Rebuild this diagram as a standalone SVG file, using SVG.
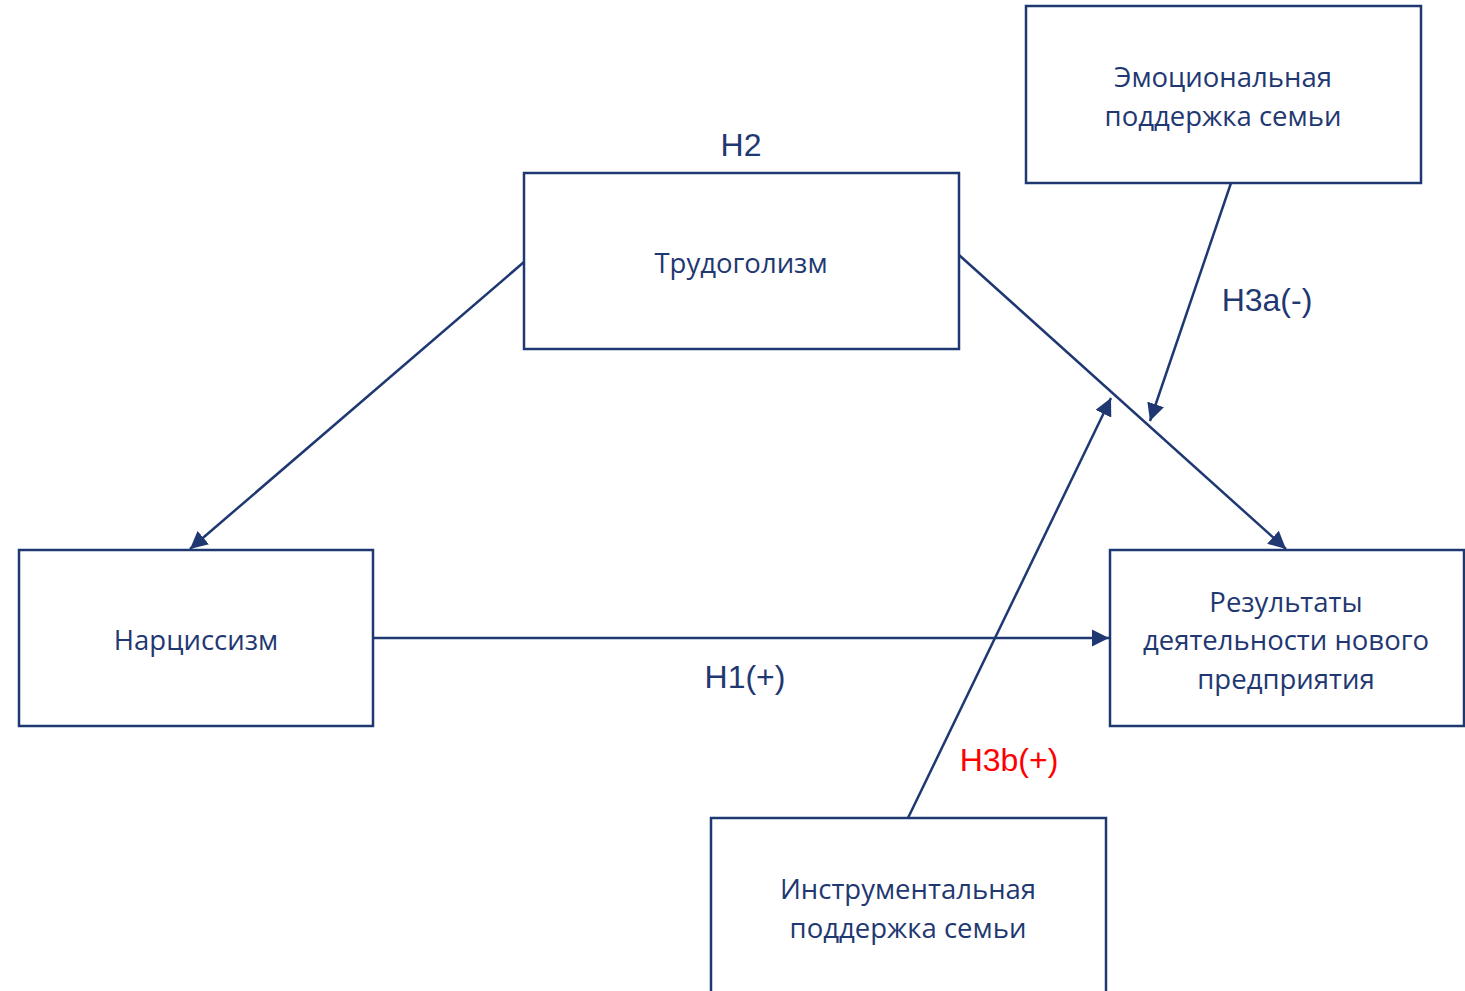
<svg xmlns="http://www.w3.org/2000/svg" width="1465" height="991" viewBox="0 0 1465 991">
<style>
.box{fill:#fff;stroke:#1F3872;stroke-width:2.5}
.t{font-family:"Open Sans","Noto Sans",sans-serif;font-size:27.5px;fill:#1F3872;text-anchor:middle;dominant-baseline:central}
.l{font-family:"Liberation Sans",Arial,sans-serif;font-size:32px;fill:#1F3872;text-anchor:middle;dominant-baseline:central}
.c{stroke:#1F3872;stroke-width:2.5;fill:none;marker-end:url(#ah)}
</style>
<defs>
<marker id="ah" viewBox="0 0 10 10" refX="10" refY="5" markerWidth="7" markerHeight="7" orient="auto" markerUnits="strokeWidth">
<path d="M0,0 L10,5 L0,10 z" fill="#1F3872"/>
</marker>
</defs>
<rect width="1465" height="991" fill="#fff"/>
<g id="connectors">
<line class="c" x1="524" y1="262" x2="190" y2="549"/>
<line class="c" x1="959" y1="255" x2="1286" y2="549"/>
<line class="c" x1="373" y1="638" x2="1109" y2="638"/>
<line class="c" x1="1231" y1="183" x2="1150" y2="421"/>
<line class="c" x1="908" y1="818" x2="1111" y2="398"/>
</g>
<g id="emotional">
<rect class="box" x="1026" y="6" width="395" height="177"/>
<text class="t" x="1223" y="76">Эмоциональная</text>
<text class="t" x="1223" y="115">поддержка семьи</text>
</g>
<g id="workaholism">
<rect class="box" x="524" y="173" width="435" height="176"/>
<text class="t" x="741" y="262">Трудоголизм</text>
</g>
<g id="narcissism">
<rect class="box" x="19" y="550" width="354" height="176"/>
<text class="t" x="196" y="639">Нарциссизм</text>
</g>
<g id="results">
<rect class="box" x="1110" y="550" width="354" height="176"/>
<text class="t" x="1286" y="601">Результаты</text>
<text class="t" x="1286" y="639">деятельности нового</text>
<text class="t" x="1286" y="678">предприятия</text>
</g>
<g id="instrumental">
<rect class="box" x="711" y="818" width="395" height="190"/>
<text class="t" x="908" y="888">Инструментальная</text>
<text class="t" x="908" y="927">поддержка семьи</text>
</g>
<g id="labels">
<text class="l" x="741" y="145">H2</text>
<text class="l" x="1267" y="300">H3a(-)</text>
<text class="l" x="745" y="677">H1(+)</text>
<text class="l" x="1009" y="760" style="fill:#FF0000">H3b(+)</text>
</g>
</svg>
